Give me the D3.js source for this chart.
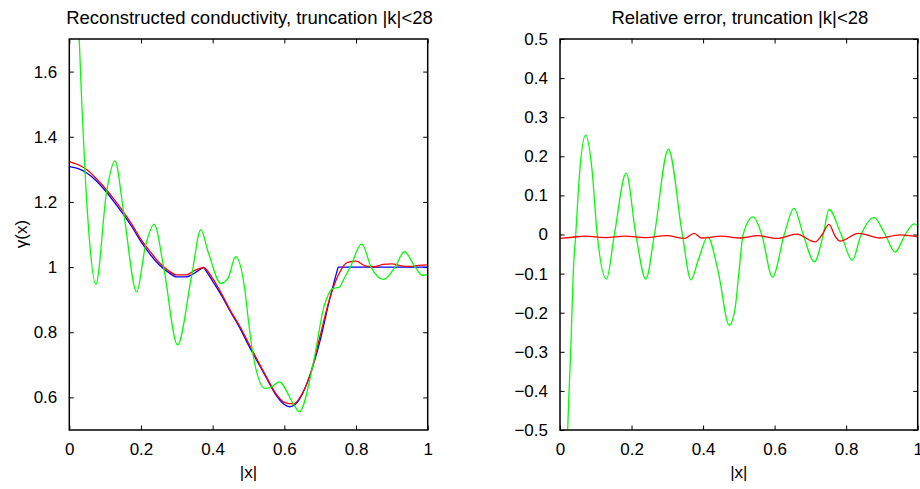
<!DOCTYPE html>
<html>
<head>
<meta charset="utf-8">
<script src="https://cdn.jsdelivr.net/npm/d3@7"></script>
<style>
  body { margin: 0; background: #fff; }
  svg { display: block; font-family: "Liberation Sans", Arial, sans-serif; }
  .axis path { display: none; }
  .axis line { stroke: #000; stroke-width: 1; }
  .axis text { font-size: 17px; fill: #000; }
  .frame { fill: none; stroke: #000; stroke-width: 1.5; }
  .curve { fill: none; stroke-width: 1.3; }
</style>
</head>
<body>
<svg id="chart" width="920" height="489"></svg>
<script>
// true conductivity (blue), pieces split at the kinks
var trueX = [0, 0.025, 0.05, 0.075, 0.1, 0.125, 0.15, 0.175, 0.2, 0.225, 0.25, 0.275, 0.3, 0.325, 0.35, 0.375,
             0.4, 0.425, 0.45, 0.475, 0.5, 0.525, 0.55, 0.575, 0.6, 0.615, 0.63, 0.65, 0.675, 0.7, 0.725, 0.75,
             1.0];
var trueY = [1.308, 1.302, 1.288, 1.265, 1.235, 1.2, 1.163, 1.123, 1.078, 1.04, 1.008, 0.985, 0.97, 0.97, 0.982, 1.0,
             0.957, 0.912, 0.862, 0.815, 0.76, 0.71, 0.66, 0.61, 0.578, 0.571, 0.578, 0.61, 0.68, 0.775, 0.895, 1.0,
             1.0];
var trueBreaks = [15, 31]; // indices of the kinks at |x|=0.375 and |x|=0.75

// reconstruction (red)
var recX = [0, 0.025, 0.05, 0.075, 0.1, 0.125, 0.15, 0.175, 0.2, 0.225, 0.25, 0.275, 0.3, 0.325, 0.35, 0.375,
            0.4, 0.425, 0.45, 0.475, 0.5, 0.525, 0.55, 0.575, 0.6, 0.625, 0.65, 0.675, 0.7, 0.725, 0.75,
            0.775, 0.8, 0.825, 0.85, 0.875, 0.9, 0.925, 0.95, 0.975, 1.0];
var recY = [1.324, 1.314, 1.298, 1.272, 1.242, 1.208, 1.171, 1.13, 1.085, 1.048, 1.015, 0.99, 0.976, 0.976, 0.99, 0.998,
            0.965, 0.918, 0.866, 0.82, 0.767, 0.714, 0.663, 0.614, 0.585, 0.58, 0.612, 0.68, 0.79, 0.897, 0.974,
            1.014, 1.018, 1.004, 1.001, 1.008, 1.01, 1.004, 1.002, 1.005, 1.007];

// truncated reconstruction (green)
var truncX = [0, 0.012, 0.021, 0.027, 0.035, 0.044, 0.055, 0.074, 0.104, 0.1275, 0.152, 0.188, 0.212, 0.237,
              0.264, 0.302, 0.342, 0.367, 0.387, 0.423, 0.443, 0.464, 0.489, 0.5, 0.512, 0.546, 0.564, 0.585,
              0.627, 0.642, 0.68, 0.711, 0.736, 0.752, 0.77, 0.784, 0.816, 0.842, 0.876, 0.909, 0.935, 0.965,
              0.985, 1.0];
var truncY = [2.6, 2.25, 1.95, 1.72, 1.5, 1.29, 1.1, 0.947, 1.23, 1.326, 1.165, 0.924, 1.062, 1.131,
              0.995, 0.761, 0.978, 1.115, 1.048, 0.95, 0.966, 1.032, 0.936, 0.834, 0.735, 0.628, 0.632, 0.648,
              0.577, 0.556, 0.7, 0.88, 0.935, 0.938, 0.972, 1.0, 1.071, 1.0, 0.962, 1.0, 1.047, 1.0,
              0.975, 0.978];

// relative errors
var errRecX = [0, 0.035, 0.07, 0.126, 0.182, 0.238, 0.298, 0.349, 0.375, 0.396, 0.452, 0.503, 0.554, 0.606,
               0.662, 0.713, 0.733, 0.752, 0.769, 0.783, 0.834, 0.895, 0.95, 1.0];
var errRecY = [-0.01, -0.007, -0.004, -0.008, -0.004, -0.008, -0.003, -0.01, 0.003, -0.009, -0.004, -0.009, -0.003, -0.01,
               0.001, -0.019, 0, 0.026, -0.004, -0.017, 0.003, -0.009, -0.001, -0.006];
var errTruncX = [0.012, 0.0215, 0.031, 0.037, 0.044, 0.055, 0.072, 0.089, 0.104, 0.13, 0.152, 0.185, 0.212, 0.24,
                 0.264, 0.303, 0.342, 0.366, 0.387, 0.413, 0.443, 0.473, 0.489, 0.5, 0.512, 0.54, 0.564, 0.594,
                 0.627, 0.654, 0.68, 0.711, 0.736, 0.752, 0.786, 0.817, 0.842, 0.878, 0.909, 0.937, 0.965, 0.99, 1.0];
var errTruncY = [-0.85, -0.5, -0.27, -0.1, 0, 0.16, 0.254, 0.17, 0, -0.114, 0, 0.157, 0, -0.114,
                 0, 0.218, 0, -0.116, -0.064, -0.006, -0.098, -0.232, -0.192, -0.098, 0, 0.045, 0, -0.109,
                 0, 0.067, 0, -0.07, 0, 0.064, 0, -0.066, 0, 0.043, 0, -0.045, 0, 0.027, 0.023];

var xTicks = [0, 0.2, 0.4, 0.6, 0.8, 1];
var gammaTicks = [0.6, 0.8, 1, 1.2, 1.4, 1.6];
var errTicks = [-0.5, -0.4, -0.3, -0.2, -0.1, 0, 0.1, 0.2, 0.3, 0.4, 0.5];

var svg = d3.select("#chart");

function zip(xs, ys) {
    return xs.map(function(x, i) { return [x, ys[i]]; });
}

function fmt(d) {
    return d === 0 ? "0" : d3.format(".1~f")(d);
}

function panel(id, left, right, yDomain, yTicks, title) {
    var top = 39, bottom = 430;
    var x = d3.scaleLinear().domain([0, 1]).range([left, right]);
    var y = d3.scaleLinear().domain(yDomain).range([bottom, top]);
    var tick = 4.5;

    svg.append("clipPath").attr("id", id)
        .append("rect").attr("x", left).attr("y", top)
        .attr("width", right - left).attr("height", bottom - top);

    // ticks on all four sides, pointing inward
    svg.append("g").attr("class", "axis")
        .attr("transform", "translate(0," + bottom + ")")
        .call(d3.axisBottom(x).tickValues(xTicks).tickFormat(fmt).tickSizeInner(-tick).tickPadding(13));
    svg.append("g").attr("class", "axis")
        .attr("transform", "translate(0," + top + ")")
        .call(d3.axisTop(x).tickValues(xTicks).tickFormat("").tickSizeInner(-tick));
    svg.append("g").attr("class", "axis")
        .attr("transform", "translate(" + left + ",0)")
        .call(d3.axisLeft(y).tickValues(yTicks).tickFormat(fmt).tickSizeInner(-tick).tickPadding(12));
    svg.append("g").attr("class", "axis")
        .attr("transform", "translate(" + right + ",0)")
        .call(d3.axisRight(y).tickValues(yTicks).tickFormat("").tickSizeInner(-tick));

    svg.append("text")
        .attr("x", (left + right) / 2 + 1).attr("y", 24)
        .attr("text-anchor", "middle")
        .style("font-size", "18.5px")
        .text(title);
    svg.append("text")
        .attr("x", (left + right) / 2).attr("y", 478)
        .attr("text-anchor", "middle")
        .style("font-size", "17px")
        .text("|x|");

    var g = svg.append("g").attr("clip-path", "url(#" + id + ")");
    var line = d3.line()
        .x(function(d) { return x(d[0]); })
        .y(function(d) { return y(d[1]); })
        .curve(d3.curveMonotoneX);

    return { x: x, y: y, g: g, line: line, frame: function() {
        svg.append("rect").attr("class", "frame")
            .attr("x", left).attr("y", top)
            .attr("width", right - left).attr("height", bottom - top);
    } };
}

// left panel: conductivity
var p1 = panel("clipL", 69.3, 427.7, [0.5, 1.7], gammaTicks,
    "Reconstructed conductivity, truncation |k|<28");

var truePts = zip(trueX, trueY);
var pieces = [truePts.slice(0, trueBreaks[0] + 1),
              truePts.slice(trueBreaks[0], trueBreaks[1] + 1),
              truePts.slice(trueBreaks[1])];
pieces.forEach(function(seg) {
    p1.g.append("path").attr("class", "curve")
        .attr("stroke", "#0000ff")
        .attr("d", p1.line(seg));
});
p1.g.append("path").attr("class", "curve")
    .attr("stroke", "#ff0000")
    .attr("d", p1.line(zip(recX, recY)));
p1.g.append("path").attr("class", "curve")
    .attr("stroke", "#00ff00")
    .attr("d", p1.line(zip(truncX, truncY)));
p1.frame();

svg.append("text")
    .attr("transform", "translate(27,234) rotate(-90)")
    .attr("text-anchor", "middle")
    .style("font-size", "17px")
    .text("γ(x)");

// right panel: relative error
var p2 = panel("clipR", 560, 917.7, [-0.5, 0.5], errTicks,
    "Relative error, truncation |k|<28");

p2.g.append("path").attr("class", "curve")
    .attr("stroke", "#00ff00")
    .attr("d", p2.line(zip(errTruncX, errTruncY)));
p2.g.append("path").attr("class", "curve")
    .attr("stroke", "#ff0000")
    .attr("d", p2.line(zip(errRecX, errRecY)));
p2.frame();
</script>
</body>
</html>
